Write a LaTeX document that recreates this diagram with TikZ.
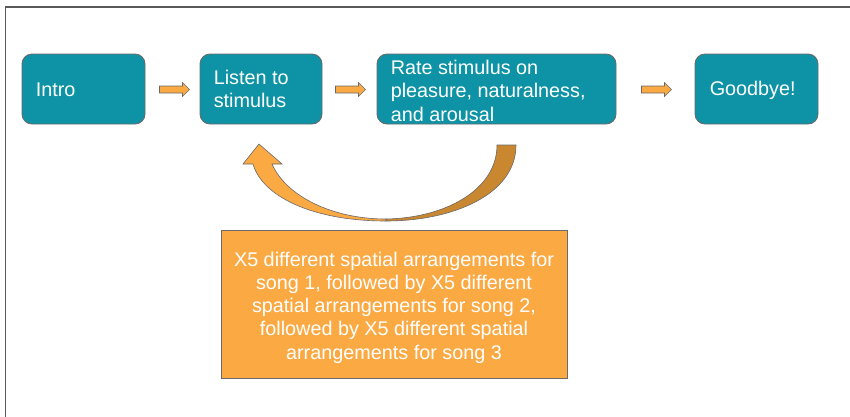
\documentclass[tikz,border=0pt]{standalone}
\usepackage{fontspec}
\setmainfont{Liberation Sans}
\usetikzlibrary{calc}
\definecolor{teal1}{HTML}{0E93A6}
\definecolor{orng}{HTML}{FBA943}
\definecolor{dorng}{HTML}{C98830}
\definecolor{edgegray}{HTML}{6A6A6A}
\begin{document}
\begin{tikzpicture}[x=1pt,y=-1pt,
  stepbox/.style={draw=edgegray, line width=0.9pt, fill=teal1, rounded corners=10pt,
    minimum height=70pt, inner sep=0pt},
  boxtext/.style={text=white, anchor=west, align=left, inner sep=0pt,
    font=\fontsize{19.8}{23.5}\selectfont},
  blockarrow/.style={draw=edgegray, line width=0.6pt, fill=orng},
]
\useasboundingbox (0,0) rectangle (850,416);
% frame
\draw[color=black!65, line width=1.3pt] (5.5,417) -- (5.5,7) -- (851,7);

% process boxes
\node[stepbox, minimum width=123pt] (intro) at (83.5,89) {};
\node[stepbox, minimum width=122pt] (listen) at (261,89) {};
\node[stepbox, minimum width=239pt] (rate) at (496.5,89) {};
\node[stepbox, minimum width=123pt] (bye) at (756.5,89) {};

\node[boxtext] (introt) at ($(intro.west)+(14,1)$) {Intro};
\node[boxtext] (listent) at ($(listen.west)+(14,0)$) {Listen to\\stimulus};
\node[boxtext] (ratet) at ($(rate.west)+(14,1.5)$) {Rate stimulus on\\pleasure, naturalness,\\and arousal};
\node[boxtext] (byet) at ($(bye.west)+(15,1)$) {Goodbye!};

% small block arrows between boxes
\draw[blockarrow] ($(intro.east)+(14,0.5)$) -- ++(0,-3.5) -- ++(23,0) -- ++(0,-3.5) -- ++(7,7) -- ++(-7,7) -- ++(0,-3.5) -- ++(-23,0) -- cycle;
\draw[blockarrow] ($(listen.east)+(13,0.5)$) -- ++(0,-3.5) -- ++(23,0) -- ++(0,-3.5) -- ++(7,7) -- ++(-7,7) -- ++(0,-3.5) -- ++(-23,0) -- cycle;
\draw[blockarrow] ($(rate.east)+(25,0.5)$) -- ++(0,-3.5) -- ++(23,0) -- ++(0,-3.5) -- ++(7,7) -- ++(-7,7) -- ++(0,-3.5) -- ++(-23,0) -- cycle;

% curved return arrow
\draw[draw=edgegray, line width=0.6pt, fill=dorng]
  (386,221) .. controls (452,221) and (516,195) .. (516,145)
  -- (497,145) .. controls (497,190) and (445,218) .. (386,219) -- cycle;
\draw[draw=edgegray, line width=0.6pt, fill=orng]
  (386,221) .. controls (312,221) and (262,196) .. (253,164)
  -- (243,164) -- (259,144) -- (282,164) -- (272,164)
  .. controls (286,196) and (332,219) .. (386,219) -- cycle;

% loop note box
\node[draw=edgegray, line width=0.9pt, fill=orng, minimum width=346pt, minimum height=148pt,
  inner sep=0pt] (note) at (394,304) {};
\node[text=white, align=center, inner sep=0pt, font=\fontsize{19.8}{23.3}\selectfont]
  (notet) at ($(note.center)+(0,3.5)$)
  {X5 different spatial arrangements for\\song 1, followed by X5 different\\spatial arrangements for song 2,\\followed by X5 different spatial\\arrangements for song 3};
\end{tikzpicture}
\end{document}
